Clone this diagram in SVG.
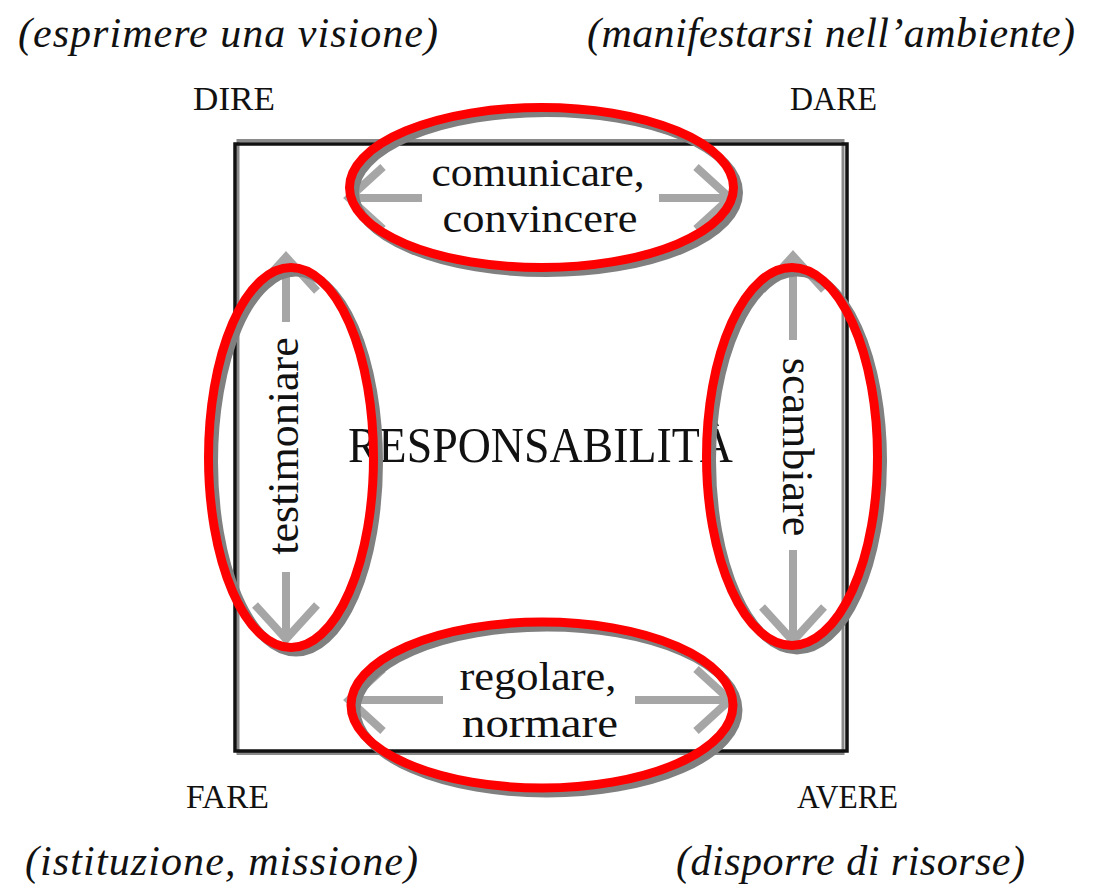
<svg xmlns="http://www.w3.org/2000/svg" width="1093" height="885" viewBox="0 0 1093 885">
<style>
.t{font-family:"Liberation Serif","Times New Roman",serif;fill:#111;}
.lbl{font-size:41px;text-anchor:middle;}
.vl{font-size:44px;text-anchor:middle;}
.cap{font-size:34px;}
.it{font-family:"Liberation Serif","Times New Roman",serif;font-style:italic;font-size:42px;fill:#111;}
.arr{fill:none;stroke:#a6a6a6;stroke-width:8;stroke-linejoin:miter;stroke-linecap:butt;}
.ell{fill:none;stroke:#ff0000;stroke-width:9;}
.sh{fill:none;stroke:#808080;stroke-width:9;}
</style>
<rect width="1093" height="885" fill="#ffffff"/>
<g id="frame">
<rect x="238" y="140.5" width="605" height="613" fill="none" stroke="#8a8a8a" stroke-width="3"/>
<rect x="235" y="144" width="612" height="607" fill="none" stroke="#111" stroke-width="3.5"/>
</g>
<g id="connectors">
<path class="arr" d="M383,167 L349,198 L383,229 M349,198 H422"/>
<path class="arr" d="M659,198 H730 M696,167 L730,198 L696,229"/>
<path class="arr" d="M383,669 L349,700 L383,731 M349,700 H443"/>
<path class="arr" d="M635,700 H730 M696,669 L730,700 L696,731"/>
<path class="arr" d="M255,291 L286,257 L317,291 M286,257 V322"/>
<path class="arr" d="M286,572 V637 M255,605 L286,639 L317,605"/>
<path class="arr" d="M762,290 L793,256 L824,290 M793,256 V340"/>
<path class="arr" d="M793,550 V640 M762,607 L793,641 L824,607"/>
</g>
<g id="corner-dire">
<text class="it" x="18" y="47" textLength="420" lengthAdjust="spacing">(esprimere una visione)</text>
<text class="t cap" x="193" y="110" textLength="82" lengthAdjust="spacingAndGlyphs">DIRE</text>
</g>
<g id="corner-dare">
<text class="it" x="587" y="47" textLength="488" lengthAdjust="spacing">(manifestarsi nell’ambiente)</text>
<text class="t cap" x="790" y="110" textLength="87" lengthAdjust="spacingAndGlyphs">DARE</text>
</g>
<g id="corner-fare">
<text class="t cap" x="186" y="808" textLength="83" lengthAdjust="spacingAndGlyphs">FARE</text>
<text class="it" x="25" y="875" textLength="393" lengthAdjust="spacing">(istituzione, missione)</text>
</g>
<g id="corner-avere">
<text class="t cap" x="797" y="808" textLength="101" lengthAdjust="spacingAndGlyphs">AVERE</text>
<text class="it" x="676" y="875" textLength="349" lengthAdjust="spacing">(disporre di risorse)</text>
</g>
<g id="center">
<text class="t" x="348" y="462" font-size="51" textLength="385" lengthAdjust="spacingAndGlyphs">RESPONSABILITÀ</text>
</g>
<g id="top-node">
<ellipse class="sh" cx="546.5" cy="192.5" rx="192" ry="80"/>
<ellipse class="ell" cx="541.5" cy="187.5" rx="192" ry="80"/>
<text class="t lbl" x="538" y="186" textLength="213" lengthAdjust="spacingAndGlyphs">comunicare,</text>
<text class="t lbl" x="540" y="232" textLength="195" lengthAdjust="spacingAndGlyphs">convincere</text>
</g>
<g id="bottom-node">
<ellipse class="sh" cx="547" cy="710" rx="191" ry="83"/>
<ellipse class="ell" cx="542" cy="705" rx="191" ry="83"/>
<text class="t lbl" x="538" y="690" textLength="157" lengthAdjust="spacingAndGlyphs">regolare,</text>
<text class="t lbl" x="540" y="737" textLength="156" lengthAdjust="spacingAndGlyphs">normare</text>
</g>
<g id="left-node">
<ellipse class="sh" cx="296" cy="462" rx="82.5" ry="190"/>
<ellipse class="ell" cx="291" cy="457.5" rx="82.5" ry="190"/>
<text class="t vl" transform="translate(298,446) rotate(-90)">testimoniare</text>
</g>
<g id="right-node">
<ellipse class="sh" cx="797" cy="461" rx="85.5" ry="189"/>
<ellipse class="ell" cx="792" cy="456.5" rx="85.5" ry="189"/>
<text class="t vl" transform="translate(783,447) rotate(90)">scambiare</text>
</g>
</svg>
